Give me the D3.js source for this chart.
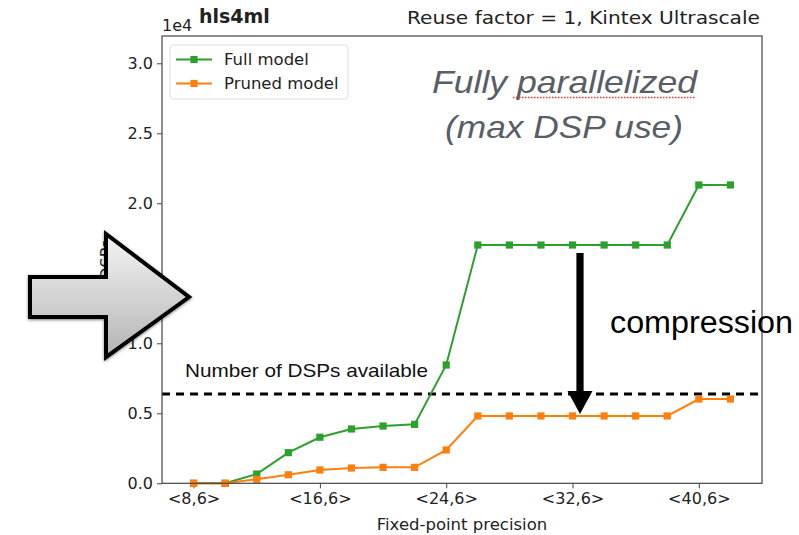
<!DOCTYPE html>
<html>
<head>
<meta charset="utf-8">
<script src="https://cdn.jsdelivr.net/npm/d3@7"></script>
<style>
  body { margin: 0; background: #fff; }
  svg { display: block; }
  .mpl { font-family: "DejaVu Sans", sans-serif; fill: #222; }
  .hv { font-family: "Liberation Sans", Arial, sans-serif; }
</style>
</head>
<body>
<div id="chart"></div>
<script>
// 정밀도 (총 비트수) — x축
const bits = [8, 10, 12, 14, 16, 18, 20, 22, 24, 26, 28, 30, 32, 34, 36, 38, 40, 42];
const fullModel = [0, 0, 660, 2190, 3290, 3880, 4090, 4210, 8450, 17020, 17020, 17020, 17020, 17020, 17020, 17020, 21310, 21310];
const prunedModel = [0, 0, 290, 610, 950, 1090, 1140, 1140, 2380, 4810, 4810, 4810, 4810, 4810, 4810, 4810, 6020, 6020];
const dspAvailable = 6380;
const xTicks = [8, 16, 24, 32, 40];
const xTickLabels = ['<8,6>', '<16,6>', '<24,6>', '<32,6>', '<40,6>'];
const yTicks = [0, 5000, 10000, 15000, 20000, 25000, 30000];
const series = [
  { name: 'Full model', values: fullModel, color: '#2ca02c' },
  { name: 'Pruned model', values: prunedModel, color: '#ff7f0e' },
];

const W = 799, H = 535;
const m = { left: 162, right: 762, top: 36, bottom: 483.3 };

const svg = d3.select('#chart').append('svg')
  .attr('width', W).attr('height', H);

const x = d3.scaleLinear().domain([6, 44]).range([m.left, m.right]);
const y = d3.scaleLinear().domain([0, 31950]).range([m.bottom, m.top]);

// 축
const gx = svg.append('g').attr('transform', `translate(0,${m.bottom})`)
  .call(d3.axisBottom(x).tickValues(xTicks).tickSize(5).tickPadding(4)
    .tickFormat((d, i) => xTickLabels[i]));
const gy = svg.append('g').attr('transform', `translate(${m.left},0)`)
  .call(d3.axisLeft(y).tickValues(yTicks).tickSize(5).tickPadding(4)
    .tickFormat(d => (d / 1e4).toFixed(1)));
[gx, gy].forEach(g => {
  g.select('.domain').remove();
  g.selectAll('.tick line').attr('stroke', '#444').attr('stroke-width', 1);
  g.selectAll('.tick text').attr('class', 'mpl').attr('font-size', 16).attr('fill', '#222');
});

// y축 라벨 (화살표에 가려짐)
svg.append('text').attr('class', 'mpl').attr('font-size', 16)
  .attr('transform', `translate(112,${(m.top + m.bottom) / 2}) rotate(-90)`)
  .attr('text-anchor', 'middle').text('DSPs');

svg.append('text').attr('class', 'mpl').attr('font-size', 16.5)
  .attr('x', (m.left + m.right) / 2).attr('y', 530).attr('text-anchor', 'middle')
  .text('Fixed-point precision');

svg.append('text').attr('class', 'mpl').attr('font-size', 16)
  .attr('x', m.left).attr('y', 31).text('1e4');
svg.append('text').attr('class', 'mpl').attr('font-size', 19).attr('font-weight', 'bold')
  .attr('x', 199).attr('y', 23).attr('fill', '#111').text('hls4ml');
svg.append('text').attr('class', 'mpl').attr('font-size', 18.5)
  .attr('x', 760).attr('y', 24).attr('text-anchor', 'end')
  .attr('textLength', 353).attr('lengthAdjust', 'spacingAndGlyphs')
  .text('Reuse factor = 1, Kintex Ultrascale');

// DSP 한계선
svg.append('line')
  .attr('x1', m.left).attr('x2', m.right)
  .attr('y1', y(dspAvailable)).attr('y2', y(dspAvailable))
  .attr('stroke', '#000').attr('stroke-width', 3.2).attr('stroke-dasharray', '8 6');

svg.append('text').attr('class', 'hv').attr('font-size', 19)
  .attr('x', 185).attr('y', y(dspAvailable) - 17)
  .attr('textLength', 243).attr('lengthAdjust', 'spacingAndGlyphs')
  .attr('fill', '#111').text('Number of DSPs available');

// 시리즈
const line = d3.line().x((d, i) => x(bits[i])).y(d => y(d));
series.forEach(s => {
  const g = svg.append('g');
  g.append('path').datum(s.values).attr('d', line)
    .attr('fill', 'none').attr('stroke', s.color).attr('stroke-width', 2);
  g.selectAll('rect').data(s.values).join('rect')
    .attr('x', (d, i) => x(bits[i]) - 3.6).attr('y', d => y(d) - 3.6)
    .attr('width', 7.2).attr('height', 7.2).attr('fill', s.color);
});

// 테두리
svg.append('rect')
  .attr('x', m.left).attr('y', m.top)
  .attr('width', m.right - m.left).attr('height', m.bottom - m.top)
  .attr('fill', 'none').attr('stroke', '#444').attr('stroke-width', 1.2);

// 범례
const lg = svg.append('g').attr('transform', 'translate(170,45)');
lg.append('rect').attr('width', 178).attr('height', 54).attr('rx', 3)
  .attr('fill', '#fff').attr('fill-opacity', 0.8).attr('stroke', '#ddd');
series.forEach((s, i) => {
  const yy = 14.5 + i * 24;
  lg.append('line').attr('x1', 6).attr('x2', 42).attr('y1', yy).attr('y2', yy)
    .attr('stroke', s.color).attr('stroke-width', 2);
  lg.append('rect').attr('x', 20.4).attr('y', yy - 3.6).attr('width', 7.2).attr('height', 7.2)
    .attr('fill', s.color);
  lg.append('text').attr('class', 'mpl').attr('font-size', 16.5)
    .attr('x', 54).attr('y', yy + 5.5).text(s.name);
});

// 주석 텍스트
svg.append('text').attr('class', 'hv').attr('font-size', 32).attr('font-style', 'italic')
  .attr('fill', '#595e66').attr('x', 432).attr('y', 93)
  .attr('textLength', 265).attr('lengthAdjust', 'spacingAndGlyphs')
  .text('Fully parallelized');
svg.append('line').attr('x1', 513).attr('x2', 695).attr('y1', 97.5).attr('y2', 97.5)
  .attr('stroke', '#e33').attr('stroke-width', 1.5).attr('stroke-dasharray', '1.5 1.5');
svg.append('text').attr('class', 'hv').attr('font-size', 32).attr('font-style', 'italic')
  .attr('fill', '#595e66').attr('x', 445).attr('y', 138)
  .attr('textLength', 238).attr('lengthAdjust', 'spacingAndGlyphs')
  .text('(max DSP use)');

svg.append('text').attr('class', 'hv').attr('font-size', 31)
  .attr('x', 610).attr('y', 333).attr('fill', '#000')
  .attr('textLength', 183).attr('lengthAdjust', 'spacingAndGlyphs')
  .text('compression');

// 압축 화살표 (아래 방향)
const ax = 580, aTop = y(fullModel[12]) + 8, aTip = y(prunedModel[12]) - 2;
svg.append('path')
  .attr('d', `M${ax - 3.6},${aTop} L${ax + 3.6},${aTop} L${ax + 3.6},${aTip - 23} L${ax + 12.5},${aTip - 23} L${ax},${aTip} L${ax - 12.5},${aTip - 23} L${ax - 3.6},${aTip - 23} Z`)
  .attr('fill', '#000');

// 큰 화살표 (왼쪽)
const defs = svg.append('defs');
const grad = defs.append('linearGradient').attr('id', 'arrowFill')
  .attr('x1', 0).attr('y1', 0).attr('x2', 0).attr('y2', 1);
grad.append('stop').attr('offset', '0%').attr('stop-color', '#f4f4f4');
grad.append('stop').attr('offset', '100%').attr('stop-color', '#b4b4b4');
const sh = defs.append('filter').attr('id', 'shadow')
  .attr('x', '-20%').attr('y', '-20%').attr('width', '140%').attr('height', '140%');
sh.append('feDropShadow').attr('dx', 0).attr('dy', 1).attr('stdDeviation', 1.5)
  .attr('flood-color', '#000').attr('flood-opacity', 0.5);

const bigArrow = [[30, 277], [106, 277], [106, 234], [189, 297], [106, 357], [106, 317], [30, 317]];
svg.append('path')
  .attr('d', d3.line()(bigArrow) + 'Z')
  .attr('fill', 'url(#arrowFill)').attr('stroke', '#000').attr('stroke-width', 4)
  .attr('stroke-linejoin', 'miter').attr('filter', 'url(#shadow)');
</script>
</body>
</html>
